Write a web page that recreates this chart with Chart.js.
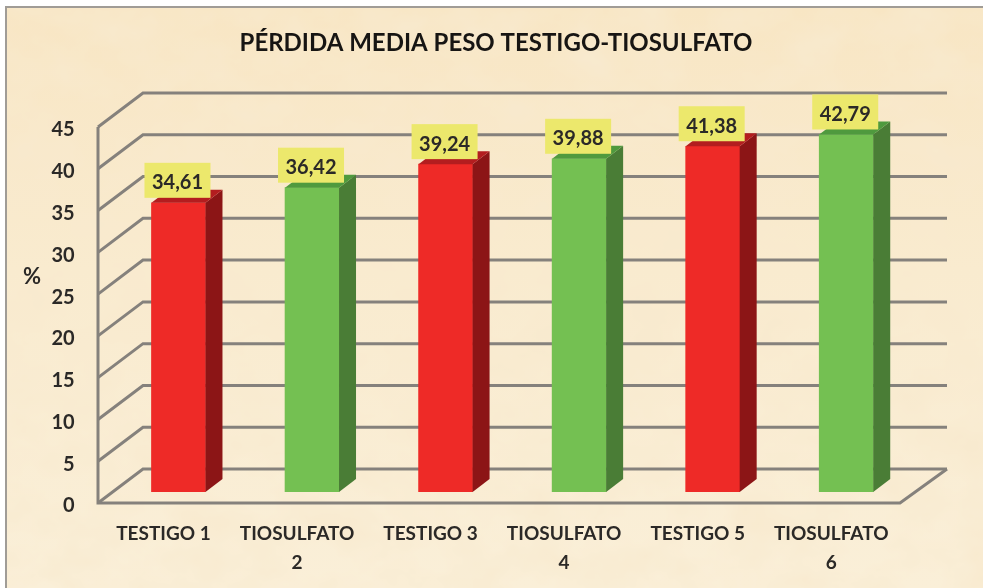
<!DOCTYPE html>
<html>
<head>
<meta charset="utf-8">
<style>
html,body{margin:0;padding:0;background:#fff;width:983px;height:588px;overflow:hidden}
#paper{position:absolute;left:5px;top:6px;width:978px;height:582px;border-left:2px solid #a09c96;border-top:2px solid #a09c96;box-sizing:border-box;background:linear-gradient(180deg,#f8e6c4 0%,#f9ebcf 45%,#faefd8 100%);overflow:hidden}
#paper svg{position:absolute;left:0;top:0}
canvas{position:absolute;left:0;top:0;filter:blur(0.6px)}
</style>
<script src="https://cdn.jsdelivr.net/npm/chart.js@4"></script>
</head>
<body>
<div id="paper">
<svg width="978" height="582"><filter id="n" x="0" y="0" width="100%" height="100%"><feTurbulence type="fractalNoise" baseFrequency="0.018 0.024" numOctaves="4" seed="7"/><feColorMatrix type="matrix" values="0 0 0 0 0.94  0 0 0 0 0.82  0 0 0 0 0.62  1.1 1.1 0 0 -0.85"/></filter><rect width="978" height="582" filter="url(#n)"/></svg>
</div>
<canvas id="c" width="983" height="588"></canvas>
<script>
const titleText = 'PÉRDIDA MEDIA PESO TESTIGO-TIOSULFATO';
const categories = ['TESTIGO 1', ['TIOSULFATO', '2'], 'TESTIGO 3', ['TIOSULFATO', '4'], 'TESTIGO 5', ['TIOSULFATO', '6']];
const values = [34.61, 36.42, 39.24, 39.88, 41.38, 42.79];
const frontColors = ['#ee2a27', '#74c052', '#ee2a27', '#74c052', '#ee2a27', '#74c052'];
const sideColors = ['#8c1516', '#4a7d36', '#8c1516', '#4a7d36', '#8c1516', '#4a7d36'];
const topColors = ['#b31d1f', '#4f9a3e', '#b31d1f', '#4f9a3e', '#b31d1f', '#4f9a3e'];
const axisTitle = '%';
const ink = '#2b2927';
const fontFamily = 'Lato, "Open Sans", sans-serif';

const threeD = {
  id: 'threeD',
  beforeDatasetsDraw(chart) {
    const { ctx, scales: { x, y } } = chart;
    const frontX = 98, backX = 143, rightX = 947, floorRight = 900;
    ctx.save();
    ctx.strokeStyle = '#85817c';
    ctx.lineWidth = 3;
    ctx.lineJoin = 'miter';
    y.ticks.forEach(t => {
      const p = y.getPixelForValue(t.value);
      ctx.beginPath();
      ctx.moveTo(frontX, p + 11);
      ctx.lineTo(backX, p - 23);
      ctx.lineTo(rightX, p - 23);
      ctx.stroke();
    });
    const p0 = y.getPixelForValue(0), pMax = y.getPixelForValue(45);
    ctx.beginPath();
    ctx.moveTo(frontX, pMax + 11);
    ctx.lineTo(frontX, p0 + 11);
    ctx.lineTo(floorRight, p0 + 11);
    ctx.lineTo(rightX, p0 - 23);
    ctx.stroke();
    ctx.restore();
  },
  afterDatasetsDraw(chart) {
    const { ctx } = chart;
    const meta = chart.getDatasetMeta(0);
    const dx = 17, dy = 13;
    ctx.save();
    meta.data.forEach((bar, i) => {
      const l = bar.x - bar.width / 2, r = bar.x + bar.width / 2;
      ctx.fillStyle = sideColors[i];
      ctx.beginPath();
      ctx.moveTo(r, bar.y);
      ctx.lineTo(r + dx, bar.y - dy);
      ctx.lineTo(r + dx, bar.base - dy);
      ctx.lineTo(r, bar.base);
      ctx.closePath();
      ctx.fill();
      ctx.fillStyle = topColors[i];
      ctx.beginPath();
      ctx.moveTo(l, bar.y);
      ctx.lineTo(l + dx, bar.y - dy);
      ctx.lineTo(r + dx, bar.y - dy);
      ctx.lineTo(r, bar.y);
      ctx.closePath();
      ctx.fill();
    });
    meta.data.forEach((bar, i) => {
      const label = values[i].toFixed(2).replace('.', ',');
      ctx.fillStyle = '#ece86c';
      ctx.fillRect(bar.x - 34, bar.y - 40, 66, 35);
      ctx.fillStyle = ink;
      ctx.font = 'bold 20px ' + fontFamily;
      ctx.textAlign = 'center';
      ctx.textBaseline = 'middle';
      ctx.fillText(label, bar.x - 1, bar.y - 20);
    });
    ctx.fillStyle = ink;
    ctx.font = 'bold 22px ' + fontFamily;
    ctx.textAlign = 'center';
    ctx.textBaseline = 'middle';
    ctx.fillText(axisTitle, 32, 277);
    ctx.restore();
  }
};

new Chart(document.getElementById('c'), {
  type: 'bar',
  data: {
    labels: categories,
    datasets: [{ data: values, backgroundColor: frontColors, barThickness: 54, borderWidth: 0 }]
  },
  options: {
    responsive: false,
    animation: false,
    layout: { padding: { left: 9, right: 0, top: 0, bottom: 0 } },
    plugins: {
      legend: { display: false },
      tooltip: { enabled: false },
      title: {
        display: true,
        text: titleText,
        color: '#171513',
        font: { family: fontFamily, size: 24, weight: 'bold', lineHeight: 1.2 },
        padding: { top: 29, bottom: 58.2 }
      }
    },
    scales: {
      x: {
        grid: { display: false, drawTicks: false },
        border: { display: false },
        afterFit(s) { s.height = 96; },
        ticks: {
          autoSkip: false, maxRotation: 0, minRotation: 0, padding: 27, labelOffset: -15,
          color: ink,
          font: { family: fontFamily, size: 19, weight: 'bold', lineHeight: 1.55 }
        }
      },
      y: {
        min: 0, max: 45,
        grid: { display: false, drawTicks: false },
        border: { display: false },
        afterFit(s) { s.width = 102.7; },
        ticks: {
          stepSize: 5, padding: 37, labelOffset: 14,
          color: ink,
          font: { family: fontFamily, size: 20, weight: 'bold' }
        }
      },
      yr: {
        axis: 'y',
        position: 'right',
        min: 0, max: 45,
        grid: { display: false, drawTicks: false },
        border: { display: false },
        ticks: { display: false },
        afterFit(s) { s.width = 70; }
      }
    }
  },
  plugins: [threeD]
});
</script>
</body>
</html>
